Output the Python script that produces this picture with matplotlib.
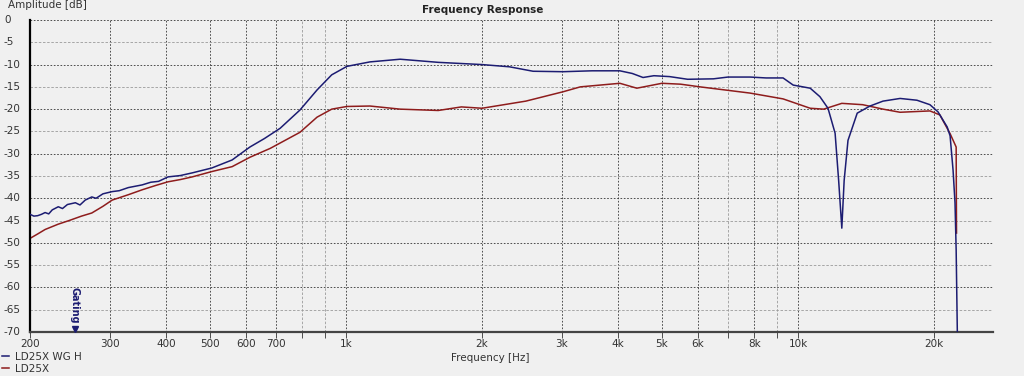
import matplotlib.pyplot as plt
import matplotlib.transforms as mtransforms

# LD25X WG H (blue)
wg_freq = [200, 204, 208, 212, 216, 220, 224, 231, 236, 242, 252, 258, 265, 274, 280,
           290, 304, 315, 330, 354, 370, 385, 404, 430, 457, 505, 560, 613, 660, 715,
           791, 863, 930, 1005, 1130, 1318, 1600, 2000, 2300, 2594, 3022, 3500, 4036,
           4300, 4541, 4800, 5200, 5700, 6500, 7000, 7836, 8500, 9268, 9757, 10640,
           11180, 11650, 12080, 12300, 12500, 12650, 12900, 13520, 14430, 15420, 16820,
           18330, 19580, 20400, 21380, 21700, 22030, 22250, 22380, 22550, 22700]
wg_db = [-43.6, -44.0, -43.9, -43.6, -43.2, -43.5, -42.6, -41.9, -42.3, -41.4, -41.0,
         -41.5, -40.4, -39.7, -40.0, -39.0, -38.5, -38.3, -37.6, -37.0, -36.4, -36.2,
         -35.2, -34.9, -34.3, -33.2, -31.4, -28.5, -26.6, -24.3, -20.2, -15.7, -12.3,
         -10.4, -9.4, -8.8, -9.5, -10.0, -10.5, -11.5, -11.6, -11.4, -11.4, -12.0,
         -12.9, -12.5, -12.7, -13.3, -13.2, -12.8, -12.8, -13.0, -13.0, -14.6, -15.3,
         -17.2, -19.8, -25.4, -36.0, -46.7, -36.0, -27.0, -20.9, -19.3, -18.2, -17.6,
         -18.0, -19.0, -20.6, -24.0, -26.0, -33.7, -41.0, -51.6, -75.0, -75.0]

# LD25X (red)
ld_freq = [200, 208, 216, 231, 244, 260, 274, 290, 304, 330, 354, 380, 404, 430, 457,
           505, 560, 613, 680, 791, 863, 930, 1005, 1130, 1318, 1600, 1800, 2000, 2500,
           3022, 3300, 4036, 4400, 5000, 5500, 6071, 7836, 9268, 10640, 11400, 12500,
           13900, 15420, 16820, 19580, 20600, 21700, 22380, 22420]
ld_db = [-49.0, -48.0, -47.0, -45.8, -45.0, -44.0, -43.3, -41.8, -40.4, -39.2, -38.1,
         -37.1, -36.3, -35.8, -35.2, -34.0, -32.9, -30.8, -28.8, -25.2, -21.8, -20.0,
         -19.4, -19.3, -20.0, -20.3, -19.5, -19.8, -18.2, -16.1, -15.0, -14.2, -15.3,
         -14.2, -14.4, -15.0, -16.4, -17.7, -19.8, -20.0, -18.7, -19.0, -20.0, -20.7,
         -20.4, -21.3, -25.5, -28.5, -47.8]

major_x = [200, 300, 400, 500, 600, 700, 1000, 2000, 3000, 4000, 5000, 6000, 8000,
           10000, 20000]
major_x_labels = ['200', '300', '400', '500', '600', '700', '1k', '2k', '3k', '4k',
                  '5k', '6k', '8k', '10k', '20k']
minor_x = [800, 900, 7000, 9000]
y_ticks = list(range(0, -75, -5))

bg = '#f0f0f0'
blue = '#1c1c72'
red = '#8e1c1c'

fig = plt.figure(figsize=(10.24, 3.76), dpi=100, facecolor=bg)
ax = fig.add_axes([30 / 1024, 1 - 332 / 376, 963 / 1024, 312 / 376], facecolor=bg)

ax.set_xscale('log')
ax.set_xlim(200, 27000)
ax.set_ylim(-70, 0)

# grid
for f in major_x[1:]:
    ax.axvline(f, color='#333333', lw=0.6, ls=(0, (2, 2)), zorder=1)
for f in minor_x:
    ax.axvline(f, color='#9a9a9a', lw=0.6, ls=(0, (3, 2)), zorder=1)
for v in y_ticks:
    if v % 10 == 0:
        ax.axhline(v, color='#333333', lw=0.6, ls=(0, (2, 2)), zorder=1)
    else:
        ax.axhline(v, color='#9a9a9a', lw=0.6, ls=(0, (3, 2)), zorder=1)

ax.plot(wg_freq, wg_db, color=blue, lw=1.1, label='LD25X WG H', zorder=3)
ax.plot(ld_freq, ld_db, color=red, lw=1.1, label='LD25X', zorder=2)

# axes frame
for s in ['top', 'right']:
    ax.spines[s].set_visible(False)
ax.spines['left'].set_color('black')
ax.spines['left'].set_linewidth(1.6)
ax.spines['bottom'].set_color('#444444')
ax.spines['bottom'].set_linewidth(1.6)

ax.set_xticks(major_x + minor_x)
ax.set_xticklabels(major_x_labels + [''] * len(minor_x))
ax.xaxis.set_minor_locator(plt.NullLocator())
ax.tick_params(axis='x', length=4, width=0.6, color='#333333', labelsize=7.5,
               labelcolor='#333333', pad=1)
ax.set_yticks(y_ticks)
ax.set_yticklabels([])
ax.tick_params(axis='y', length=0)

trans = mtransforms.blended_transform_factory(fig.transFigure, ax.transData)
for v in y_ticks:
    ax.text(4 / 1024, v, str(v), transform=trans, ha='left', va='center',
            fontsize=7.5, color='#333333')

fig.text(8 / 1024, 1 - 5 / 376, 'Amplitude [dB]', ha='left', va='center',
         fontsize=7.5, color='#333333')
fig.text(483 / 1024, 1 - 10 / 376, 'Frequency Response', ha='center', va='center',
         fontsize=7.5, fontweight='bold', color='#222222')
fig.text(490 / 1024, 1 - 358 / 376, 'Frequency [Hz]', ha='center', va='center',
         fontsize=7.5, color='#333333')

# gating marker
ax.plot([251], [-69.3], marker='v', color=blue, markersize=5, clip_on=False, zorder=4)
ax.text(251, -68.2, 'Gating', rotation=-90, ha='center', va='bottom', fontsize=7,
        fontweight='bold', color=blue, zorder=4)

fig.legend(loc='upper left', bbox_to_anchor=(0, 1 - 350 / 376), frameon=False,
           fontsize=7.5, handlelength=0.7, handletextpad=0.5, borderaxespad=0,
           labelspacing=0.15, borderpad=0.2, labelcolor='#333333')

fig.savefig('out.png', dpi=100, facecolor=bg)
